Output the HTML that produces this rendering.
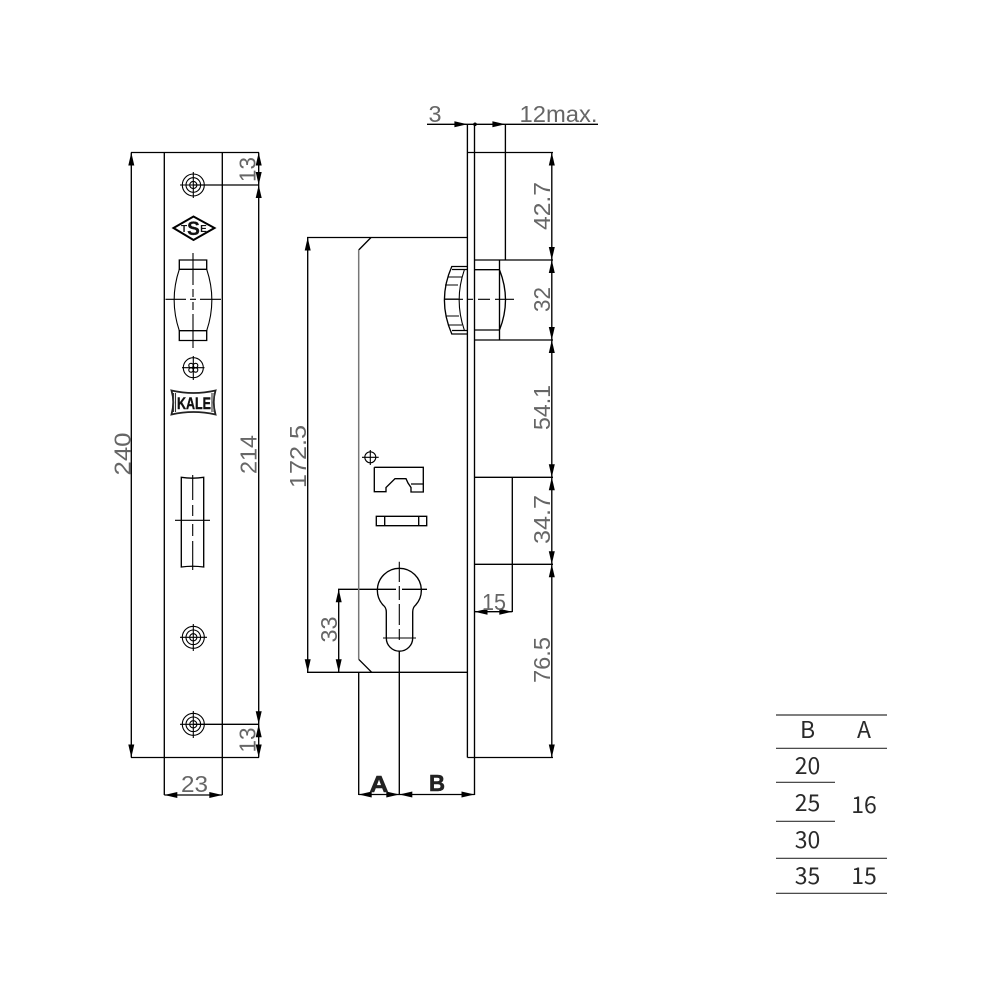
<!DOCTYPE html>
<html><head><meta charset="utf-8"><style>
html,body{margin:0;padding:0;background:#fff}
svg{display:block}
.t{font-family:"Liberation Sans",sans-serif;font-size:23px;fill:#666;text-anchor:middle}
.b{font-family:"Liberation Sans",sans-serif;font-size:23px;fill:#222;text-anchor:middle}
.tb{font-family:"Noto Sans CJK JP","Liberation Sans",sans-serif;font-size:23px;fill:#2a2a2a;text-anchor:middle}
</style></head><body>
<svg width="1000" height="1000" viewBox="0 0 1000 1000" xmlns="http://www.w3.org/2000/svg">
<defs><path id="a" d="M0 0L13 -3L13 3Z" fill="#000"/></defs>
<g fill="none" stroke="#000" stroke-width="1.35">
<!-- left view -->
<path d="M131 152.5H259M131 757.5H259M131.3 152.5V757.5M164.3 152.5V795M222.3 152.5V795M258.7 152.5V757.5M164.3 795H222.3"/>
<path d="M193 185H259M193 724.3H259"/>
<g stroke-width="1.1">
<circle cx="193.3" cy="185" r="11"/><circle cx="193.3" cy="185" r="7.3"/><circle cx="193.3" cy="185" r="3.6"/>
<path d="M180 185H206M193.3 172V198"/>
<circle cx="193.3" cy="637.3" r="11"/><circle cx="193.3" cy="637.3" r="7.3"/><circle cx="193.3" cy="637.3" r="3.6"/>
<path d="M180 637.3H207M193.3 624V651"/>
<circle cx="193.3" cy="724.3" r="11"/><circle cx="193.3" cy="724.3" r="7.3"/><circle cx="193.3" cy="724.3" r="3.6"/>
<path d="M180 724.3H193M193.3 711V738"/>
<circle cx="193.3" cy="367.7" r="10"/>
<path d="M182 367.7H204.500M193.3 356V380"/>
<circle cx="191" cy="365.500" r="2.2"/><circle cx="195.600" cy="365.500" r="2.2"/><circle cx="191" cy="370" r="2.2"/><circle cx="195.600" cy="370" r="2.2"/>
</g>
<!-- TSE diamond -->
<path d="M173.500 228L193.500 216.500L214.500 228L193.500 240Z" stroke-width="2"/>
<!-- handle -->
<path d="M179.300 260H206.700V269.300H179.300ZM179.300 330.700H206.700V340.500H179.300Z"/>
<path d="M179.300 269.300Q169 300 179.300 330.700M206.700 269.300Q217 300 206.700 330.700" stroke-width="1.1"/>
<path d="M165.500 299.300H186M190 299.300H196M200 299.300H221M193 253V285M193 289V297M193 302V310M193 314V348" stroke-width="1.1"/>
<!-- KALE banner -->
<path d="M171.500 390.500Q193.500 395.500 215.500 390.500Q212 402 215.500 414.500Q193.500 409.500 171.500 414.500Q175 402 171.500 390.500Z" stroke-width="1.8" stroke="#222"/>
<path d="M173.500 393V412M175.500 393V412M212 393V412M214 393V412" stroke="#333" stroke-width="1.1"/>
<!-- latch -->
<path d="M181.300 567V477.300Q192.500 479 203.700 477.300V567Q192.500 565.500 181.300 567Z"/>
<path d="M175 520.300H210M192.700 475V500M192.700 505V516M192.700 524V536M192.700 541V570" stroke-width="1.1"/>

<!-- right view -->
<path d="M427 124.300H598M467.400 124.300V757.500M474.500 124.300V795M505.400 124.300V260"/>
<path d="M467.400 152.500H553M474.500 260H553M474.500 340H553M474.500 477.300H553M474.500 564.300H553M467.400 757.500H553M551.800 152.500V757.500"/>
<path d="M307 237.500H467.400M307 672.300H467.400M307.700 237.500V672.300M338.700 589.300V672.300M338 589.300H396M402 589.300H427"/>
<path d="M371 237.500L358.700 250" />
<path d="M358.700 659.300L371.700 672.300M358.700 672.300V795M399.300 651V795M358.700 794.500H474.500"/>
<path d="M512.300 477.300V612M474.500 611.700H512.300"/>
<path d="M358.700 250V659.300" stroke="#777" stroke-width="1.5"/>
<!-- bolt -->
<path d="M474.500 269.700H499.500M474.500 330H499.500M499.500 260V340M499.500 269.700Q511.500 300 499.500 330"/>
<!-- knob -->
<path d="M467 266.500H451.800Q437 300 451.800 334H467M467 269.500H452M467 330.500H452"/>
<path d="M464.300 270Q454 300 464.300 330M445 285H458M444.500 299H458.500M445.500 316H459M448 277H462M449 325H462" stroke-width="1.1"/>
<path d="M444 299.300H463M468 299.300H473M478 299.300H490M495 299.300H514" stroke-width="1.1"/>
<!-- slot -->
<path d="M374.300 467.300H423.300V492H411V487.500L408 483L406 478.700H395L386 487.500V491.700H374.300V467.300M411 484H423.300"/>
<!-- part -->
<path d="M376.300 516.300H426.700V525.700H376.300ZM384.700 516.300V525.700M418.700 516.300V525.700"/>
<circle cx="370.300" cy="457.300" r="5.500" stroke-width="1.1"/>
<path d="M362 457.300H378.700M370.300 450V465" stroke-width="1.1"/>
<!-- keyhole -->
<path d="M386.300 638V612Q386.300 607.500 383 605A22 22 0 1 1 415.700 605Q412.700 607.500 412.700 612V638A13.200 13.200 0 0 1 386.300 638Z"/>
<path d="M383 638H416M399.300 561.700V582M399.300 586V600M399.300 604V625M399.300 629V640" stroke-width="1.1"/>
<!-- table -->
<path d="M776 715H887M776 748.300H887M776 782.300H835M776 821.300H835M776 858.300H887M776 893.300H887" stroke="#333" stroke-width="1.2"/>
</g>
<!-- arrowheads -->
<use href="#a" transform="translate(131.300 152.500) rotate(90)"/>
<use href="#a" transform="translate(131.300 757.500) rotate(-90)"/>
<use href="#a" transform="translate(258.700 152.500) rotate(90)"/>
<use href="#a" transform="translate(258.700 185) rotate(-90)"/>
<use href="#a" transform="translate(258.700 185) rotate(90)"/>
<use href="#a" transform="translate(258.700 724.300) rotate(-90)"/>
<use href="#a" transform="translate(258.700 724.300) rotate(90)"/>
<use href="#a" transform="translate(258.700 757.500) rotate(-90)"/>
<use href="#a" transform="translate(164.300 795)"/>
<use href="#a" transform="translate(222.300 795) rotate(180)"/>
<use href="#a" transform="translate(467.400 124.300) rotate(180)"/>
<use href="#a" transform="translate(505.400 124.300) rotate(180)"/>
<use href="#a" transform="translate(551.800 152.500) rotate(90)"/>
<use href="#a" transform="translate(551.800 260) rotate(-90)"/>
<use href="#a" transform="translate(551.800 260) rotate(90)"/>
<use href="#a" transform="translate(551.800 340) rotate(-90)"/>
<use href="#a" transform="translate(551.800 340) rotate(90)"/>
<use href="#a" transform="translate(551.800 477.300) rotate(-90)"/>
<use href="#a" transform="translate(551.800 477.300) rotate(90)"/>
<use href="#a" transform="translate(551.800 564.300) rotate(-90)"/>
<use href="#a" transform="translate(551.800 564.300) rotate(90)"/>
<use href="#a" transform="translate(551.800 757.500) rotate(-90)"/>
<use href="#a" transform="translate(307.700 237.500) rotate(90)"/>
<use href="#a" transform="translate(307.700 672.300) rotate(-90)"/>
<use href="#a" transform="translate(338.700 589.300) rotate(90)"/>
<use href="#a" transform="translate(338.700 672.300) rotate(-90)"/>
<use href="#a" transform="translate(474.500 611.700)"/>
<use href="#a" transform="translate(512.300 611.700) rotate(180)"/>
<use href="#a" transform="translate(358.700 794.500)"/>
<use href="#a" transform="translate(399.300 794.500) rotate(180)"/>
<use href="#a" transform="translate(399.300 794.500)"/>
<use href="#a" transform="translate(474.500 794.500) rotate(180)"/>
<circle cx="475" cy="124.300" r="1.800" fill="#000"/>
<!-- dimension text -->
<text class="t" transform="translate(130.500 454) rotate(-90)" textLength="43" lengthAdjust="spacingAndGlyphs">240</text>
<text class="t" transform="translate(256.500 454.500) rotate(-90)" textLength="39" lengthAdjust="spacingAndGlyphs">214</text>
<text class="t" transform="translate(255.500 169.500) rotate(-90)" textLength="25" lengthAdjust="spacingAndGlyphs">13</text>
<text class="t" transform="translate(255.500 740) rotate(-90)" textLength="25" lengthAdjust="spacingAndGlyphs">13</text>
<text class="t" x="194.500" y="792" textLength="27" lengthAdjust="spacingAndGlyphs">23</text>
<text class="t" x="435" y="122" textLength="13" lengthAdjust="spacingAndGlyphs">3</text>
<text class="t" x="558.500" y="122" textLength="78" lengthAdjust="spacingAndGlyphs">12max.</text>
<text class="t" transform="translate(550 206) rotate(-90)" textLength="48" lengthAdjust="spacingAndGlyphs">42.7</text>
<text class="t" transform="translate(550 299.500) rotate(-90)" textLength="25" lengthAdjust="spacingAndGlyphs">32</text>
<text class="t" transform="translate(550 407.500) rotate(-90)" textLength="45" lengthAdjust="spacingAndGlyphs">54.1</text>
<text class="t" transform="translate(550 519.500) rotate(-90)" textLength="49" lengthAdjust="spacingAndGlyphs">34.7</text>
<text class="t" transform="translate(550 660) rotate(-90)" textLength="46" lengthAdjust="spacingAndGlyphs">76.5</text>
<text class="t" transform="translate(306 456.500) rotate(-90)" textLength="63" lengthAdjust="spacingAndGlyphs">172.5</text>
<text class="t" transform="translate(337 629.500) rotate(-90)" textLength="26" lengthAdjust="spacingAndGlyphs">33</text>
<text class="t" x="494" y="610" textLength="24" lengthAdjust="spacingAndGlyphs">15</text>
<text class="b" x="379" y="792" font-weight="bold" stroke="#222" stroke-width=".6" textLength="19" lengthAdjust="spacingAndGlyphs">A</text>
<text class="b" x="437" y="791" font-weight="bold" stroke="#222" stroke-width=".6" textLength="16" lengthAdjust="spacingAndGlyphs">B</text>
<!-- logo text -->
<g font-family="Liberation Sans,sans-serif" font-weight="bold" text-anchor="middle" fill="#111">
<text x="184" y="232" font-size="10">T</text>
<text x="193.500" y="235" font-size="19" stroke="#111" stroke-width=".3">S</text>
<text x="203.500" y="232" font-size="10">E</text>
<text x="194" y="409" font-size="17" stroke="#111" stroke-width=".4" textLength="34" lengthAdjust="spacingAndGlyphs">KALE</text>
</g>
<!-- table text -->
<text class="tb" x="807.500" y="738">B</text>
<text class="tb" x="864" y="738">A</text>
<text class="tb" x="807.500" y="774">20</text>
<text class="tb" x="807.500" y="811">25</text>
<text class="tb" x="807.500" y="848">30</text>
<text class="tb" x="807.500" y="884">35</text>
<text class="tb" x="864" y="813">16</text>
<text class="tb" x="864" y="884">15</text>
</svg>
</body></html>
